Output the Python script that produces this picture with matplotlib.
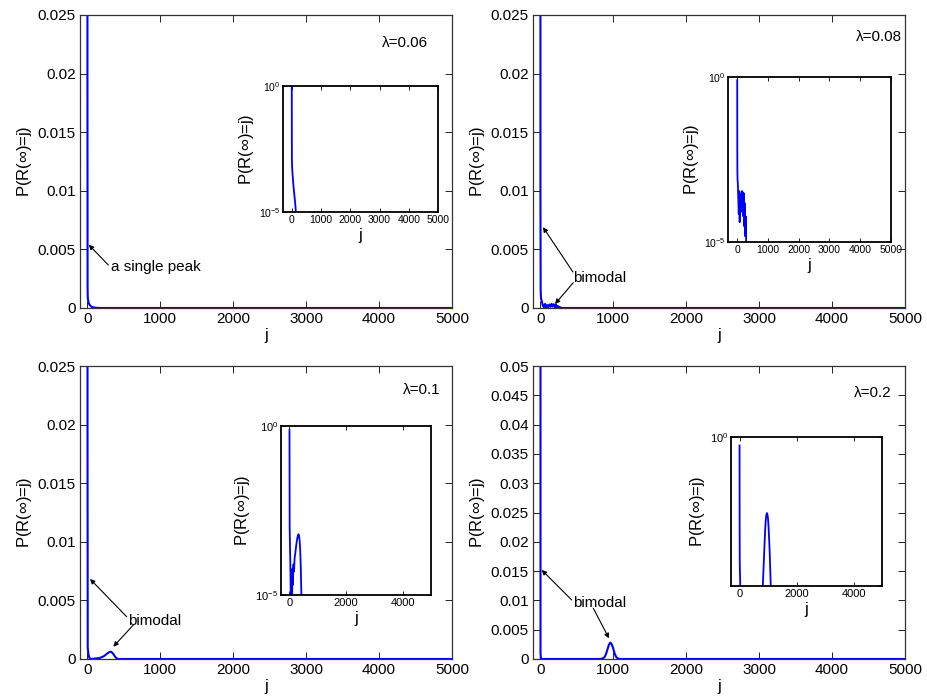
import numpy as np
import matplotlib.pyplot as plt
from matplotlib.ticker import FormatStrFormatter, NullLocator

plt.rcParams['font.family'] = ['Liberation Sans', 'DejaVu Sans']
plt.rcParams['mathtext.fontset'] = 'custom'
plt.rcParams['mathtext.rm'] = 'Liberation Sans'
plt.rcParams['mathtext.it'] = 'Liberation Sans:italic'

# P(R(inf)=j), one pair of lists per lambda
j_006 = [0, 2, 4, 6, 10, 20, 40, 60, 80, 100, 120, 140, 160, 200, 5000]
p_006 = [0.95, 0.02, 2e-3, 1e-3, 7e-4, 4e-4, 2e-4, 1e-4, 6e-5, 3.5e-5, 2e-5,
         1e-5, 5e-6, 1e-7, 1e-12]

j_008 = [0, 2, 5, 10, 20, 35, 50, 65, 80, 95, 110, 125, 140, 155, 170, 185,
         200, 215, 230, 245, 260, 275, 290, 305, 320, 5000]
p_008 = [0.8, 0.01, 1.5e-3, 8e-4, 6e-4, 2e-4, 7e-5, 3.5e-4, 4e-5, 2.5e-4,
         8e-5, 3e-4, 1e-4, 3.5e-4, 1.2e-4, 3.2e-4, 6e-5, 3e-4, 3e-5, 1.5e-4,
         1.5e-5, 6e-5, 1.2e-5, 3e-6, 1e-7, 1e-12]

j_01 = [0, 3, 6, 15, 30, 45, 60, 75, 90, 105, 120, 140, 160, 180, 200, 220,
        240, 260, 280, 300, 320, 340, 360, 380, 400, 420, 440, 460, 5000]
p_01 = [0.75, 0.02, 1e-3, 4e-4, 8e-5, 1e-5, 3e-6, 3e-5, 5e-6, 6e-5, 2e-5,
        8e-5, 5e-5, 1.2e-4, 1.6e-4, 2.2e-4, 3e-4, 4e-4, 5e-4, 5.8e-4, 6.3e-4,
        5.5e-4, 4e-4, 2e-4, 6e-5, 1e-5, 1e-6, 1e-8, 1e-12]

j_02 = [0, 3, 8, 15, 22, 30, 40, 770, 790, 820, 850, 880, 900, 920, 940, 960,
        980, 1000, 1020, 1040, 1060, 1080, 1100, 1130, 1190, 5000]
p_02 = [0.52, 1e-3, 5e-5, 3e-5, 1.5e-5, 1e-6, 1e-9, 1e-9, 3e-6, 1.2e-5, 6e-5,
        3e-4, 8e-4, 1.6e-3, 2.4e-3, 2.8e-3, 2.5e-3, 1.8e-3, 9e-4, 3.5e-4,
        1.2e-4, 3e-5, 8e-6, 1e-6, 1e-9, 1e-12]

lam_labels = ['0.06', '0.08', '0.1', '0.2']
main_xticks = [0, 1000, 2000, 3000, 4000, 5000]
inset_xticks_wide = [0, 1000, 2000, 3000, 4000, 5000]
inset_xticks_narrow = [0, 2000, 4000]

W, H = 928, 700


def box(l, t, r, b):
    return [l / W, 1 - b / H, (r - l) / W, (b - t) / H]


panels = [
    dict(j=j_006, p=p_006, lam=lam_labels[0], main=box(80, 15, 452, 308),
         inset=box(283, 86, 438, 212), ymax=0.025, ixt=inset_xticks_wide,
         ifs=7.5, lampos=(4360, 0.0226), low_label=True,
         note='a single peak', notepos=(325, 0.0035),
         arrows=[((288, 0.00367), (20, 0.0054))]),
    dict(j=j_008, p=p_008, lam=lam_labels[1], main=box(533, 15, 905, 308),
         inset=box(728, 77, 891, 242), ymax=0.025, ixt=inset_xticks_wide,
         ifs=7.5, lampos=(4646, 0.0231), low_label=True,
         note='bimodal', notepos=(452, 0.00256),
         arrows=[((448, 0.00307), (37, 0.0069)),
                 ((452, 0.00216), (202, 0.00034))]),
    dict(j=j_01, p=p_01, lam=lam_labels[2], main=box(80, 366, 452, 659),
         inset=box(281, 426, 431, 595), ymax=0.025, ixt=inset_xticks_narrow,
         ifs=8, lampos=(4580, 0.02295), low_label=True,
         note='bimodal', notepos=(562, 0.00324),
         arrows=[((540, 0.00361), (37, 0.00683)),
                 ((631, 0.0029), (357, 0.00105))]),
    dict(j=j_02, p=p_02, lam=lam_labels[3], main=box(533, 366, 905, 659),
         inset=box(731, 437, 882, 586), ymax=0.05, ixt=inset_xticks_narrow,
         ifs=8, lampos=(4560, 0.0454), low_label=False,
         note='bimodal', notepos=(452, 0.0095),
         arrows=[((431, 0.01007), (19, 0.0152)),
                 ((727, 0.00865), (942, 0.00353))]),
]

ylab = r'P(R($\infty$)=j)'

fig = plt.figure(figsize=(W / 100, H / 100), dpi=100)

for pn in panels:
    ax = fig.add_axes(pn['main'])
    ax.plot(pn['j'], pn['p'], color='b', lw=1.5)
    ax.set_xlim(-100, 5000)
    ax.set_ylim(0, pn['ymax'])
    ax.set_xticks(main_xticks)
    ax.set_yticks(np.arange(0, pn['ymax'] + 1e-9, 0.005))
    ax.yaxis.set_major_formatter(FormatStrFormatter('%g'))
    ax.tick_params(direction='in', length=5, width=0.6, top=True, right=True,
                   labelsize=11, pad=3)
    for s in ax.spines.values():
        s.set_linewidth(0.9)
        s.set_color('0.2')
    ax.set_xlabel('j', fontsize=12, labelpad=1)
    ax.set_ylabel(ylab, fontsize=12, labelpad=3)
    ax.text(*pn['lampos'], '\u03bb=' + pn['lam'], fontsize=11,
            ha='center', va='center')
    ax.text(*pn['notepos'], pn['note'], fontsize=11, ha='left', va='center')
    for start, tip in pn['arrows']:
        ax.annotate('', xy=tip, xytext=start,
                    arrowprops=dict(arrowstyle='-|>', lw=0.8, color='k',
                                    mutation_scale=7, shrinkA=0, shrinkB=0))

    ins = fig.add_axes(pn['inset'])
    ins.plot(pn['j'], pn['p'], color='b', lw=1.3)
    ins.set_yscale('log')
    ins.set_xlim(-300, 5000)
    ins.set_ylim(1e-5, 1)
    ins.set_xticks(pn['ixt'])
    ins.set_yticks([1e-5, 1])
    ins.set_yticklabels([r'$10^{-5}$' if pn['low_label'] else '', r'$10^{0}$'])
    ins.yaxis.set_minor_locator(NullLocator())
    ins.tick_params(direction='in', length=3, width=0.6, top=True, right=True,
                    labelsize=pn['ifs'], pad=2)
    for s in ins.spines.values():
        s.set_linewidth(1.3)
    ins.set_xlabel('j', fontsize=12, labelpad=2)
    ins.set_ylabel(ylab, fontsize=12, labelpad=2)

fig.savefig('out.png', dpi=100)
